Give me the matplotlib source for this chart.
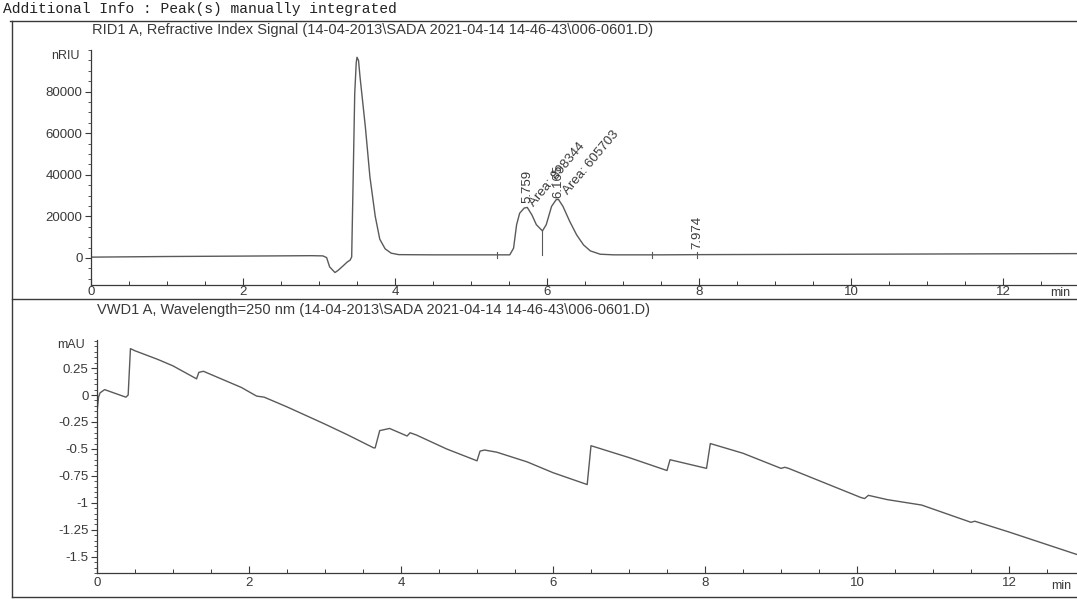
import matplotlib
matplotlib.use("Agg")
import matplotlib.pyplot as plt
import matplotlib.transforms as mtransforms
from matplotlib.lines import Line2D
from matplotlib.ticker import MultipleLocator, FuncFormatter

plt.rcParams['font.family'] = ['Liberation Sans', 'DejaVu Sans']

# RID1 A - refractive index signal (min, nRIU)
rid_time = [0.0, 1.0, 2.0, 2.9, 3.05, 3.10, 3.14, 3.21, 3.25, 3.32, 3.37, 3.41, 3.43,
            3.45, 3.47, 3.49, 3.50, 3.52, 3.54, 3.61, 3.67, 3.74, 3.80, 3.87, 3.95,
            4.05, 4.5, 5.0, 5.3, 5.51, 5.56, 5.60, 5.64, 5.70, 5.74, 5.80, 5.86, 5.94,
            5.99, 6.06, 6.12, 6.15, 6.21, 6.30, 6.39, 6.48, 6.57, 6.70, 6.88, 7.5,
            8.0, 9.0, 10.0, 11.0, 12.0, 13.0]
rid_signal = [400, 700, 900, 1100, 1000, 200, -4300, -7000, -6000, -3700, -2000, -1000, 500,
              39000, 79000, 94000, 96500, 95000, 87000, 63000, 39000, 20000, 9000, 4400, 2300,
              1600, 1500, 1500, 1500, 1500, 4700, 16000, 21500, 24000, 24300, 20800, 16000, 13000,
              16000, 24800, 28000, 28200, 24800, 17500, 11100, 6300, 3400, 1800, 1500, 1500,
              1600, 1700, 1800, 1900, 2000, 2100]

# VWD1 A - UV 250 nm (min, mAU)
vwd_time = [0.0, 0.02, 0.04, 0.10, 0.38, 0.41, 0.44, 0.50, 0.80, 1.00, 1.31, 1.34, 1.40,
            1.60, 1.90, 2.10, 2.20, 2.50, 3.00, 3.30, 3.64, 3.66, 3.72, 3.85, 4.08, 4.12,
            4.20, 4.60, 5.00, 5.04, 5.10, 5.26, 5.66, 6.00, 6.45, 6.50, 7.00, 7.50, 7.54,
            7.60, 8.02, 8.07, 8.50, 9.00, 9.05, 9.10, 10.05, 10.10, 10.15, 10.40, 10.85,
            11.50, 11.55, 12.00, 12.90]
vwd_signal = [-0.16, -0.02, 0.02, 0.05, -0.02, 0.00, 0.43, 0.41, 0.33, 0.27, 0.15, 0.21, 0.22,
              0.16, 0.07, -0.01, -0.02, -0.11, -0.27, -0.37, -0.49, -0.49, -0.33, -0.31, -0.38, -0.35,
              -0.37, -0.50, -0.61, -0.52, -0.51, -0.53, -0.62, -0.72, -0.83, -0.47, -0.58, -0.70, -0.60,
              -0.61, -0.68, -0.45, -0.54, -0.68, -0.67, -0.68, -0.95, -0.96, -0.93, -0.97, -1.02,
              -1.18, -1.17, -1.27, -1.48]

rt_labels = ['5.759', '6.165', '7.974']
rt_pos = [5.745, 6.15, 7.974]
rt_base = [26500, 29000, 4500]
area_labels = ['Area: 898344', 'Area: 605703']
area_pos = [5.80, 6.24]
area_base = [25500, 31000]
valley_t = 5.94
valley_y = 13000
baseline_marks = [5.34, 7.38, 7.974]

header = 'Additional Info : Peak(s) manually integrated'
title_rid = 'RID1 A, Refractive Index Signal (14-04-2013\\SADA 2021-04-14 14-46-43\\006-0601.D)'
title_vwd = 'VWD1 A, Wavelength=250 nm (14-04-2013\\SADA 2021-04-14 14-46-43\\006-0601.D)'

ink = '#3a3a3a'
trace = '#5a5a5a'
W, H = 1077, 600

fig = plt.figure(figsize=(10.77, 6.0), dpi=100)

ax1 = fig.add_axes([91 / W, 1 - 285 / H, (W - 91) / W, (285 - 50) / H])
ax2 = fig.add_axes([97 / W, 1 - 573 / H, (W - 97) / W, (573 - 340) / H])

fmt = FuncFormatter(lambda v, p: f'{v:g}')

def style(ax, xpad):
    for s in ['top', 'right']:
        ax.spines[s].set_visible(False)
    for s in ['left', 'bottom']:
        ax.spines[s].set_color(ink)
        ax.spines[s].set_linewidth(0.9)
    ax.xaxis.set_major_locator(MultipleLocator(2))
    ax.xaxis.set_minor_locator(MultipleLocator(0.5))
    ax.tick_params(axis='x', which='major', direction='in', length=5, width=0.8,
                   colors=ink, labelsize=9.5, pad=xpad)
    ax.tick_params(axis='x', which='minor', direction='in', length=3, width=0.7, colors=ink)
    ax.tick_params(axis='y', which='major', direction='out', length=4, width=0.8,
                   colors=ink, labelsize=9.5, pad=2)
    ax.tick_params(axis='y', which='minor', direction='out', length=2, width=0.6, colors=ink)
    ax.yaxis.set_major_formatter(fmt)
    ax.set_facecolor('none')

# top panel
ax1.plot(rid_time, rid_signal, color=trace, lw=1.0)
ax1.set_xlim(0, (W - 91) / 76)
ax1.set_ylim(-13000, 100000)
style(ax1, 0.5)
ax1.set_yticks([0, 20000, 40000, 60000, 80000])
ax1.yaxis.set_minor_locator(MultipleLocator(5000))
ax1.plot([valley_t, valley_t], [1500, valley_y], color=trace, lw=0.8)
for t in baseline_marks:
    ax1.plot([t, t], [0, 3000], color=trace, lw=0.8)
for txt, t, y in zip(rt_labels, rt_pos, rt_base):
    ax1.text(t, y, txt, rotation=90, ha='center', va='bottom', fontsize=9.5, color=ink)
for txt, t, y in zip(area_labels, area_pos, area_base):
    ax1.text(t, y, txt, rotation=50, rotation_mode='anchor', ha='left', va='center',
             fontsize=9.5, color=ink)
tr1 = mtransforms.blended_transform_factory(ax1.transData, ax1.transAxes)
ax1.text(12.62, -0.01, 'min', transform=tr1, ha='left', va='top', fontsize=9, color=ink)
ax1.text(-0.012, 97000, 'nRIU', transform=mtransforms.blended_transform_factory(ax1.transAxes, ax1.transData),
         ha='right', va='center', fontsize=9, color=ink)

# bottom panel
ax2.plot(vwd_time, vwd_signal, color=trace, lw=1.0)
ax2.set_xlim(0, (W - 97) / 76)
ax2.set_ylim(-1.65, 0.51)
style(ax2, 3)
ax2.set_yticks([-1.5, -1.25, -1.0, -0.75, -0.5, -0.25, 0, 0.25])
ax2.yaxis.set_minor_locator(MultipleLocator(0.05))
tr2 = mtransforms.blended_transform_factory(ax2.transData, ax2.transAxes)
ax2.text(12.55, -0.03, 'min', transform=tr2, ha='left', va='top', fontsize=9, color=ink)
ax2.text(-0.012, 0.46, 'mAU', transform=mtransforms.blended_transform_factory(ax2.transAxes, ax2.transData),
         ha='right', va='center', fontsize=9, color=ink)

# frame, header and titles
for (x0, y0, x1, y1) in [(10, 21, W, 21), (12, 21, 12, 597), (12, 299, W, 299), (12, 597, W, 597)]:
    fig.add_artist(Line2D([x0 / W, x1 / W], [1 - y0 / H, 1 - y1 / H], color=ink, lw=1.0))
fig.text(3 / W, 1 - 9 / H, header, family='Liberation Mono', fontsize=10.5, color='#222222',
         ha='left', va='center')
fig.text(92 / W, 1 - 30 / H, title_rid, fontsize=10.5, color=ink, ha='left', va='center')
fig.text(97 / W, 1 - 310 / H, title_vwd, fontsize=10.5, color=ink, ha='left', va='center')

fig.savefig('out.png', dpi=100, facecolor='white')
